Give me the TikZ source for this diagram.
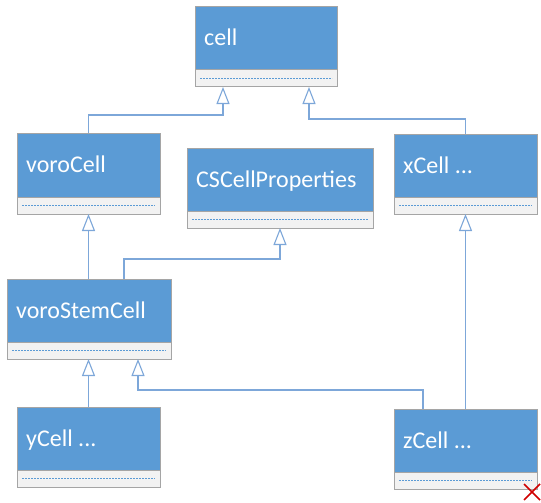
\documentclass[tikz,border=0pt]{standalone}
\usepackage{fontspec}
\setmainfont{Carlito}
\usetikzlibrary{arrows.meta}
\definecolor{hdrblue}{HTML}{5B9BD5}
\definecolor{bordergray}{HTML}{A5A5A5}
\definecolor{cmpgray}{HTML}{F2F2F2}
\definecolor{linkblue}{HTML}{7DA7D9}
\definecolor{xred}{HTML}{D00000}
\tikzset{
  hdr/.style={draw=bordergray, line width=1pt, fill=hdrblue, anchor=north west, inner sep=0pt, outer sep=0pt},
  cmp/.style={draw=bordergray, line width=1pt, fill=cmpgray, anchor=north west, inner sep=0pt, outer sep=0pt},
  lbl/.style={anchor=base west, text=white, font=\fontsize{24}{27}\selectfont, inner sep=0pt},
  dashline/.style={draw=hdrblue, line width=0.7pt, dash pattern=on 2pt off 1pt},
  inh/.style={draw=linkblue, line width=1.1pt, -{Triangle[fill=white, width=13pt, length=17pt, line width=1.1pt]}},
}
\newcommand{\classbox}[7]{%
  \node[hdr, minimum width=#4pt, minimum height=#5pt] (#1) at (#2,#3) {};
  \node[cmp, minimum width=#4pt, minimum height=#6pt] (#1c) at (#1.south west) {};
  \node[lbl] (#1t) at ([shift={(9pt,-7.5pt)}]#1.west) {#7};
  \draw[dashline] ([xshift=5pt]#1c.west) -- ([xshift=-5pt]#1c.east);
}
\begin{document}
\begin{tikzpicture}[x=1pt, y=-1pt]
\useasboundingbox (0,0) rectangle (541,503);
\classbox{cell}{195}{7}{142}{63}{17}{cell}
\classbox{voroCell}{17}{133}{143}{64}{17}{voroCell}
\classbox{CS}{187}{148}{186}{63}{17}{CSCellProperties}
\classbox{xCell}{394}{134}{143}{63}{17}{xCell ...}
\classbox{voroStem}{7}{279}{164}{63}{17}{voroStemCell}
\classbox{yCell}{17}{407}{143}{63}{17}{yCell ...}
\classbox{zCell}{394}{409}{143}{63}{17}{zCell ...}

\coordinate (k1) at (223,115);
\coordinate (k2) at (309,119);
\coordinate (k3) at (124,259);
\coordinate (k4) at (423,390);
\coordinate (k5) at (138,390);

\draw[inh] (voroCell.north) |- (k1) -- (k1 |- cellc.south);
\draw[inh] (xCell.north) |- (k2) -- (k2 |- cellc.south);
\draw[inh] (voroStem.north -| voroCellc.south) -- (voroCellc.south);
\draw[inh] (k3 |- voroStem.north) -- (k3) -| (CSc.south);
\draw[inh] (yCell.north) -- (yCell.north |- voroStemc.south);
\draw[inh] (k4 |- zCell.north) -- (k4) -- (k5) -- (k5 |- voroStemc.south);
\draw[inh] (zCell.north) -- (xCellc.south);

\coordinate (xc) at (532,492);
\draw[xred, line width=1.6pt] ([shift={(-8pt,-8pt)}]xc) -- ([shift={(8pt,8pt)}]xc)
  ([shift={(-8pt,8pt)}]xc) -- ([shift={(8pt,-8pt)}]xc);
\end{tikzpicture}
\end{document}
